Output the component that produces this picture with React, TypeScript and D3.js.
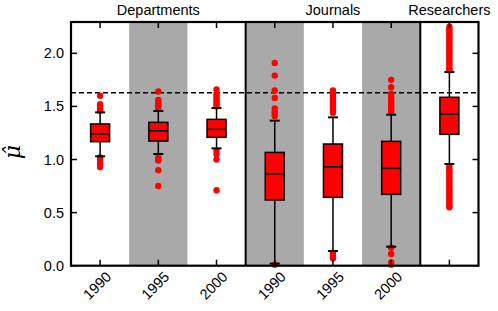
import * as d3 from 'd3'

const width = 498
const height = 311

const margin = { top: 22, right: 19.5, bottom: 45.3, left: 71 }

// one slot per box
const slots = ['d1990', 'd1995', 'd2000', 'j1990', 'j1995', 'j2000', 'r']
const tickLabels = ['1990', '1995', '2000', '1990', '1995', '2000', '']
const shaded = ['d1995', 'j1990', 'j2000']

const groups = [
  { name: 'Departments', first: 'd1990', last: 'd2000' },
  { name: 'Journals', first: 'j1990', last: 'j2000' },
  { name: 'Researchers', first: 'r', last: 'r' }
]

const q1 = [1.168, 1.174, 1.209, 0.619, 0.644, 0.672, 1.237]
const median = [1.24, 1.271, 1.284, 0.864, 0.932, 0.917, 1.426]
const q3 = [1.335, 1.35, 1.378, 1.067, 1.146, 1.171, 1.586]
const whiskerLow = [1.03, 1.052, 1.105, 0.02, 0.138, 0.179, 0.958]
const whiskerHigh = [1.444, 1.457, 1.485, 1.366, 1.397, 1.422, 1.824]

const outliers = [
  [1.6, 1.52, 1.5, 1.48, 1.47, 1.46, 1.02, 1.0, 0.98, 0.96, 0.95, 0.93],
  [1.64, 1.56, 1.54, 1.52, 1.5, 1.48, 1.02, 1.0, 0.99, 0.9, 0.75],
  [1.66, 1.62, 1.6, 1.58, 1.56, 1.54, 1.52, 1.5, 1.08, 1.05, 1.0, 0.71],
  [1.91, 1.79, 1.65, 1.58, 1.48, 1.45, 1.43, 1.41, 0.01],
  [1.65, 1.62, 1.6, 1.58, 1.56, 1.54, 1.52, 1.5, 1.48, 1.46, 1.44, 0.12, 0.1, 0.08, 0.07],
  [1.75, 1.68, 1.62, 1.59, 1.56, 1.54, 1.52, 1.5, 1.48, 1.46, 1.44, 0.17, 0.11, 0.03, 0.01],
  [2.25, 2.23, 2.21, 2.19, 2.17, 2.15, 2.13, 2.11, 2.09, 2.07, 2.05, 2.03, 2.01, 1.99,
    1.97, 1.95, 1.93, 1.91, 1.89, 1.87, 1.85, 1.84,
    0.94, 0.92, 0.9, 0.88, 0.86, 0.84, 0.82, 0.8, 0.78, 0.76, 0.74, 0.72, 0.7, 0.68,
    0.66, 0.64, 0.62, 0.6, 0.58, 0.56, 0.55]
]

const yTicks = [0, 0.5, 1.0, 1.5, 2.0]
const threshold = 1.629

const font = '"Liberation Sans", Arial, sans-serif'

function App() {
  const innerLeft = margin.left
  const innerRight = width - margin.right
  const innerTop = margin.top
  const innerBottom = height - margin.bottom

  const xScale = d3.scaleBand().domain(slots).range([innerLeft, innerRight]).padding(0)
  const yScale = d3.scaleLinear().domain([0, 2.295]).range([innerBottom, innerTop])

  const bw = xScale.bandwidth()
  const boxW = 19
  const capW = 10

  return (
    <svg width={width} height={height} style={{ position: 'absolute', left: 0, top: 0 }}>
      {/* shaded slots */}
      {shaded.map((s) => (
        <rect key={s} x={xScale(s)} y={innerTop} width={bw} height={innerBottom - innerTop} fill="#a9a9a9" />
      ))}

      {/* reference line */}
      <line x1={innerLeft} x2={innerRight} y1={yScale(threshold)} y2={yScale(threshold)}
        stroke="black" strokeWidth={1.5} strokeDasharray="5,3" />

      {/* boxes */}
      {slots.map((s, i) => {
        const cx = xScale(s)! + bw / 2
        return (
          <g key={s}>
            {outliers[i].map((v, j) => (
              <circle key={j} cx={cx} cy={yScale(v)} r={3.2} fill="#ff0000" />
            ))}
            <line x1={cx} x2={cx} y1={yScale(whiskerLow[i])} y2={yScale(q1[i])} stroke="black" strokeWidth={1.5} />
            <line x1={cx} x2={cx} y1={yScale(q3[i])} y2={yScale(whiskerHigh[i])} stroke="black" strokeWidth={1.5} />
            <line x1={cx - capW / 2} x2={cx + capW / 2} y1={yScale(whiskerLow[i])} y2={yScale(whiskerLow[i])} stroke="black" strokeWidth={2} />
            <line x1={cx - capW / 2} x2={cx + capW / 2} y1={yScale(whiskerHigh[i])} y2={yScale(whiskerHigh[i])} stroke="black" strokeWidth={2} />
            <rect x={cx - boxW / 2} y={yScale(q3[i])} width={boxW} height={yScale(q1[i]) - yScale(q3[i])}
              fill="#ff0000" stroke="black" strokeWidth={1.5} />
            <line x1={cx - boxW / 2} x2={cx + boxW / 2} y1={yScale(median[i])} y2={yScale(median[i])} stroke="black" strokeWidth={1.5} />
          </g>
        )
      })}

      {/* group separators */}
      <line x1={xScale('j1990')} x2={xScale('j1990')} y1={innerTop} y2={innerBottom} stroke="black" strokeWidth={2} />
      <line x1={xScale('r')} x2={xScale('r')} y1={innerTop} y2={innerBottom} stroke="black" strokeWidth={2} />

      {/* frame */}
      <rect x={innerLeft} y={innerTop} width={innerRight - innerLeft} height={innerBottom - innerTop}
        fill="none" stroke="black" strokeWidth={2.2} />

      {/* y ticks, left and right */}
      {yTicks.map((t) => (
        <g key={t}>
          <line x1={innerLeft} x2={innerLeft + 6} y1={yScale(t)} y2={yScale(t)} stroke="black" strokeWidth={1.5} />
          <line x1={innerRight - 6} x2={innerRight} y1={yScale(t)} y2={yScale(t)} stroke="black" strokeWidth={1.5} />
          <text x={innerLeft - 7} y={yScale(t)} dy="0.35em" textAnchor="end" fontFamily={font} fontSize={14.5}>
            {t.toFixed(1)}
          </text>
        </g>
      ))}

      {/* x ticks top and bottom, rotated labels */}
      {slots.map((s, i) => {
        const cx = xScale(s)! + bw / 2
        return (
          <g key={s}>
            <line x1={cx} x2={cx} y1={innerTop} y2={innerTop + 6} stroke="black" strokeWidth={1.5} />
            <line x1={cx} x2={cx} y1={innerBottom - 6} y2={innerBottom} stroke="black" strokeWidth={1.5} />
            {tickLabels[i] && (
              <text transform={`translate(${cx + 12},${innerBottom + 12}) rotate(-45)`} textAnchor="end"
                fontFamily={font} fontSize={14.5}>
                {tickLabels[i]}
              </text>
            )}
          </g>
        )
      })}

      {/* group titles */}
      {groups.map((g) => {
        const x0 = xScale(g.first)!
        const x1 = xScale(g.last)! + bw
        return (
          <text key={g.name} x={(x0 + x1) / 2} y={15} textAnchor="middle" fontFamily={font} fontSize={14.5}>
            {g.name}
          </text>
        )
      })}

      {/* y label */}
      <text transform="translate(20,152) rotate(-90)" textAnchor="middle" fontFamily='"DejaVu Serif", serif'
        fontStyle="italic" fontSize={22}>
        {'\u03bc\u0302'}
      </text>
    </svg>
  )
}

export default App
